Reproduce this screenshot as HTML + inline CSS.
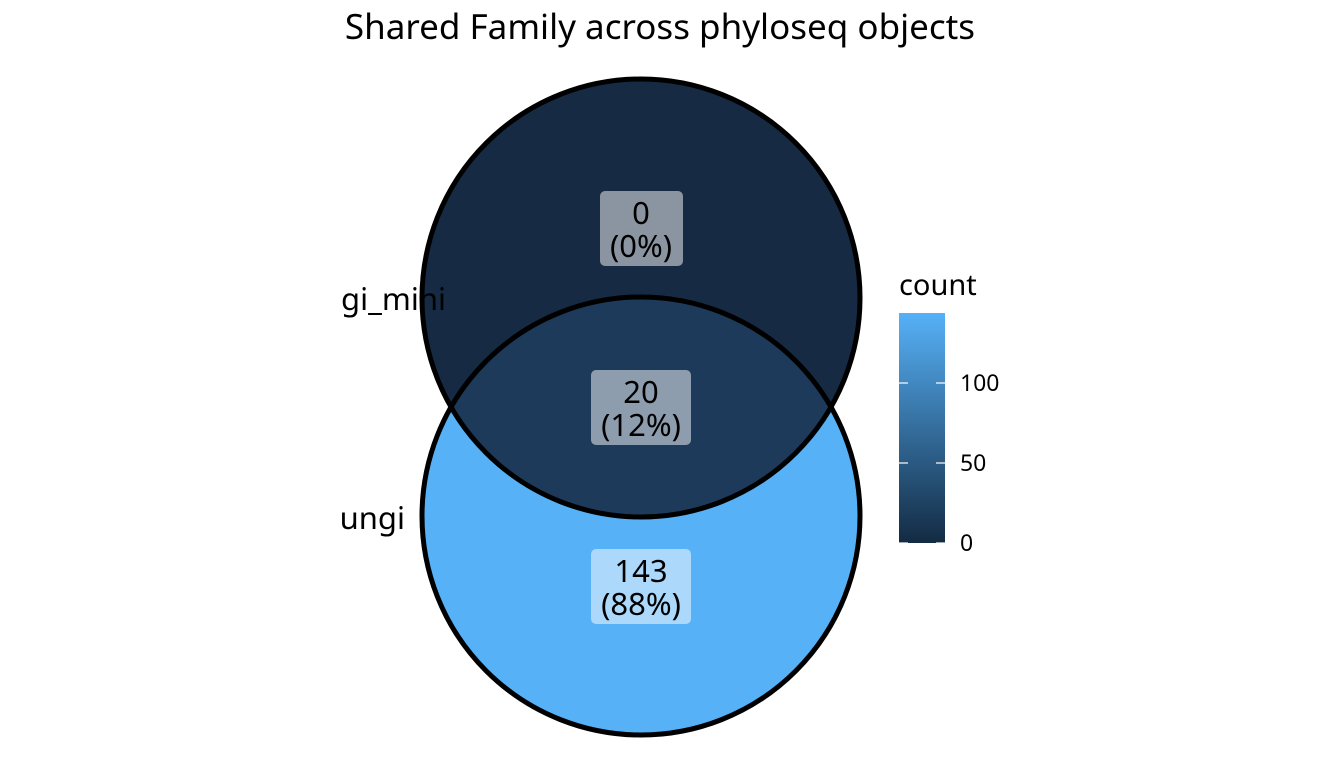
<!DOCTYPE html>
<html><head><style>body{margin:0;background:#fff}svg{display:block}</style></head>
<body>
<svg width="1344" height="768" xmlns="http://www.w3.org/2000/svg" font-family="'Noto Sans','DejaVu Sans','Liberation Sans',sans-serif">
<defs>
<clipPath id="cp"><rect x="342" y="0" width="1002" height="768"/></clipPath>
<linearGradient id="g" x1="0" y1="1" x2="0" y2="0">
<stop offset="0" stop-color="#132B43"/><stop offset="1" stop-color="#56B1F7"/></linearGradient>
<clipPath id="top"><circle cx="641" cy="298" r="219"/></clipPath>
</defs>
<rect width="1344" height="768" fill="#fff"/>
<text x="660" y="39" font-size="35" text-anchor="middle">Shared Family across phyloseq objects</text>
<circle cx="641" cy="298" r="219" fill="#162B43"/>
<circle cx="641" cy="516" r="219" fill="#56B1F7"/>
<circle cx="641" cy="516" r="219" fill="#1D3A5A" clip-path="url(#top)"/>
<circle cx="641" cy="298" r="219" fill="none" stroke="#000" stroke-width="5"/>
<circle cx="641" cy="516" r="219" fill="none" stroke="#000" stroke-width="5"/>
<g clip-path="url(#cp)" font-size="31">
<text x="446" y="310" text-anchor="end">fungi_mini</text>
<text x="405" y="529" text-anchor="end">fungi</text>
</g>
<rect x="600" y="191" width="83" height="75" rx="5" fill="#fff" fill-opacity="0.5"/>
<rect x="591" y="370" width="100" height="75" rx="5" fill="#fff" fill-opacity="0.5"/>
<rect x="591" y="549" width="100" height="75" rx="5" fill="#fff" fill-opacity="0.5"/>
<g font-size="31" text-anchor="middle">
<text x="641" y="224">0</text><text x="641" y="257">(0%)</text>
<text x="641" y="403">20</text><text x="641" y="436">(12%)</text>
<text x="641" y="582">143</text><text x="641" y="615">(88%)</text>
</g>
<text x="899" y="295" font-size="29">count</text>
<rect x="899" y="313" width="46" height="230" fill="url(#g)"/>
<g stroke="#fff" stroke-width="1.2">
<line x1="899" y1="383" x2="908" y2="383"/><line x1="936" y1="383" x2="945" y2="383"/>
<line x1="899" y1="463" x2="908" y2="463"/><line x1="936" y1="463" x2="945" y2="463"/>
<line x1="899" y1="543" x2="908" y2="543"/><line x1="936" y1="543" x2="945" y2="543"/>
</g>
<g font-size="23">
<text x="960" y="391">100</text><text x="960" y="471">50</text><text x="960" y="551">0</text>
</g>
</svg>
</body></html>
